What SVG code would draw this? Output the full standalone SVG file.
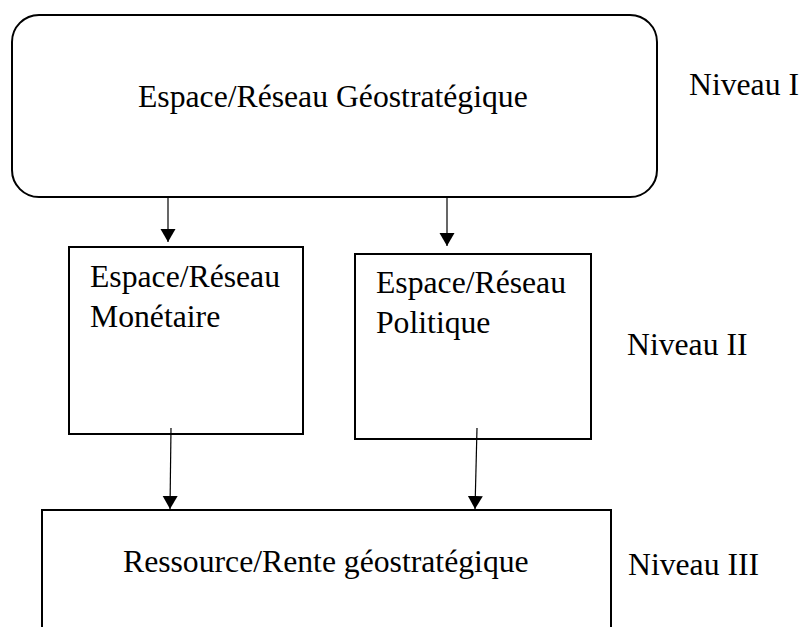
<svg xmlns="http://www.w3.org/2000/svg" width="801" height="627" viewBox="0 0 801 627">
  <style>
    .box { fill: #ffffff; stroke: #000000; stroke-width: 2; }
    .lbl { font-family: "Liberation Serif", "Times New Roman", serif; font-size: 31.7px; fill: #000000; }
    .conn { stroke: #000000; stroke-width: 1.2; fill: none; marker-end: url(#arrow); }
  </style>
  <defs>
    <marker id="arrow" markerUnits="userSpaceOnUse" markerWidth="16" markerHeight="16" viewBox="0 0 16 16" refX="13" refY="8" orient="auto">
      <path d="M0,0.5 L13,8 L0,15.5 Z" fill="#000000"/>
    </marker>
  </defs>
  <rect width="801" height="627" fill="#ffffff"/>

  <g id="niveau1">
    <rect class="box" x="12" y="15" width="645" height="182" rx="27" ry="27"/>
    <text class="lbl" x="138" y="107">Espace/Réseau Géostratégique</text>
  </g>

  <g id="monetaire">
    <rect class="box" x="69" y="247" width="234" height="187"/>
    <text class="lbl" x="90" y="287">Espace/Réseau</text>
    <text class="lbl" x="90" y="327">Monétaire</text>
  </g>

  <g id="politique">
    <rect class="box" x="355" y="254" width="236" height="185"/>
    <text class="lbl" x="376" y="293">Espace/Réseau</text>
    <text class="lbl" x="376" y="333">Politique</text>
  </g>

  <g id="niveau3">
    <rect class="box" x="42" y="510" width="569" height="140"/>
    <text class="lbl" x="123" y="572">Ressource/Rente géostratégique</text>
  </g>

  <g id="levels">
    <text class="lbl" x="689" y="95">Niveau I</text>
    <text class="lbl" x="627" y="355">Niveau II</text>
    <text class="lbl" x="628" y="575">Niveau III</text>
  </g>

  <g id="connectors">
    <line class="conn" x1="168" y1="198" x2="168" y2="242"/>
    <line class="conn" x1="447" y1="198" x2="447" y2="246"/>
    <line class="conn" x1="171" y1="428" x2="170" y2="509"/>
    <line class="conn" x1="477" y1="428" x2="475" y2="509"/>
  </g>
</svg>
